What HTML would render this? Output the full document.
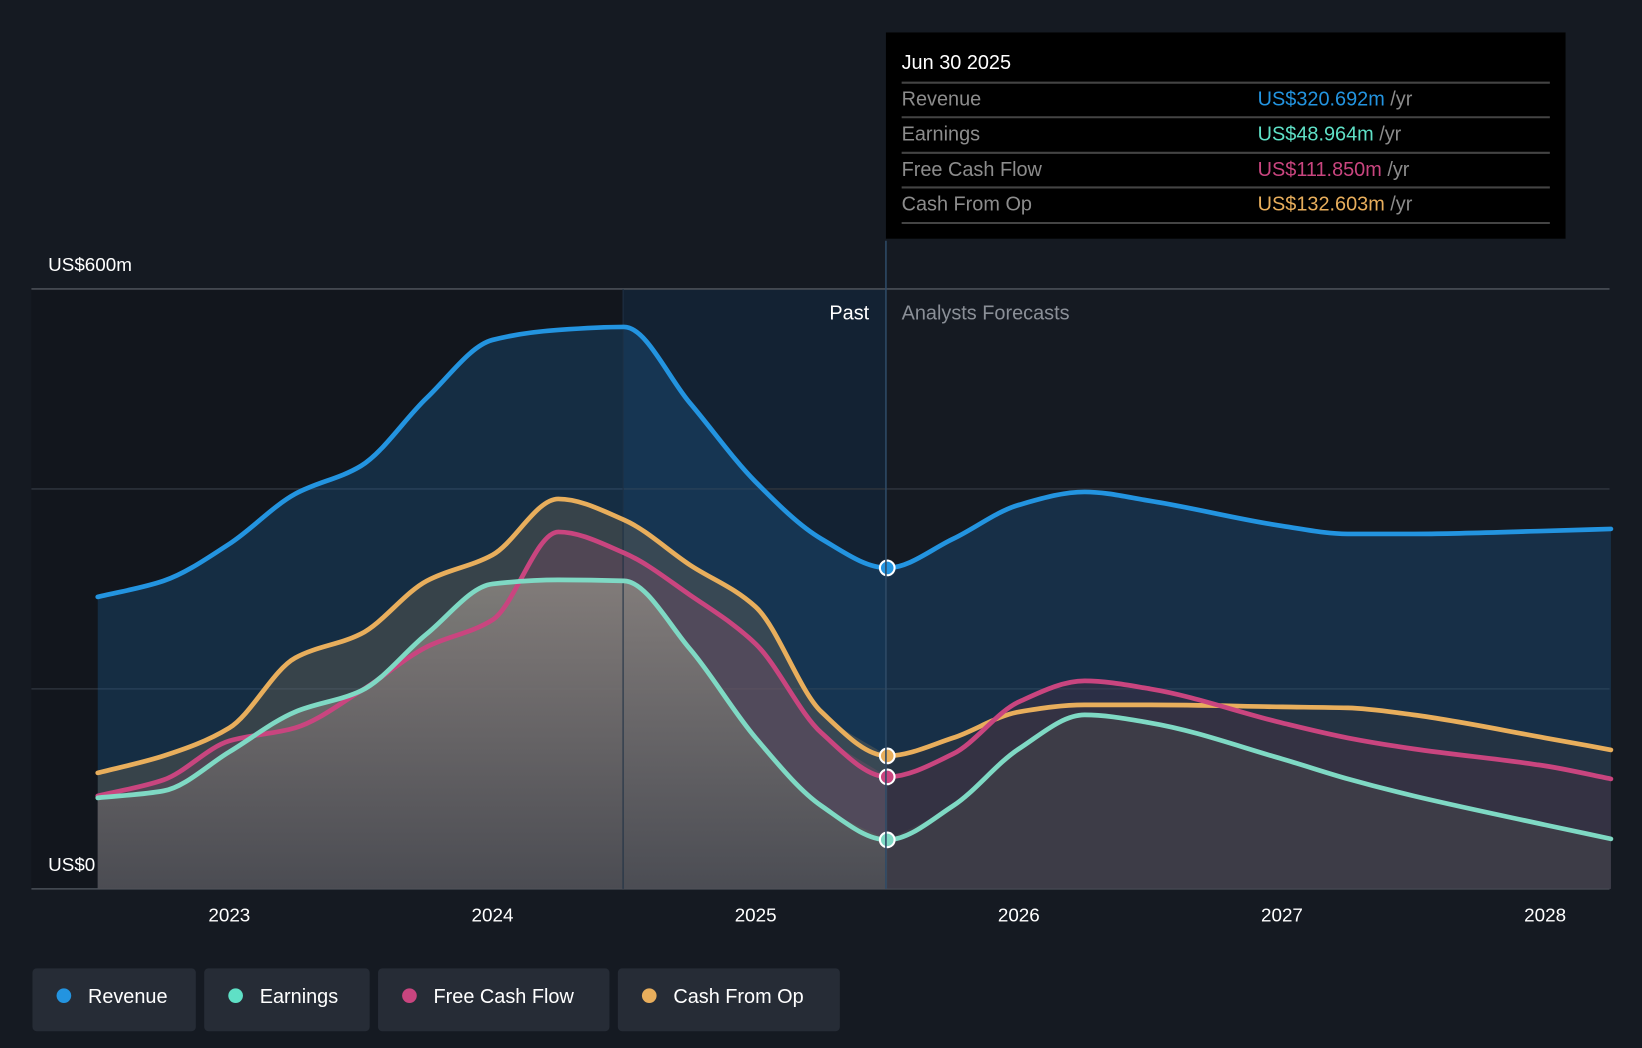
<!DOCTYPE html>
<html><head><meta charset="utf-8"><style>
html,body{margin:0;padding:0;background:#151a22;overflow:hidden}
svg{display:block}
text{font-family:"Liberation Sans",sans-serif}
</style></head><body>
<svg id="chart" width="1642" height="1048" viewBox="0 0 1568 1001" preserveAspectRatio="none" xmlns="http://www.w3.org/2000/svg">
<defs>
<linearGradient id="gGray" x1="0" y1="0" x2="0" y2="1"><stop offset="0" stop-color="#8a8580" stop-opacity="0.85"/><stop offset="1" stop-color="#4a4d52" stop-opacity="0.85"/></linearGradient>
</defs>
<rect x="0" y="0" width="1568" height="1001" fill="#151a22"/>
<rect x="30" y="276" width="565" height="573" fill="#12161d"/>
<rect x="595" y="276" width="251" height="573" fill="#132233"/>
<g id="grid"></g>
<g id="areas"></g>
<line x1="595" y1="276" x2="595" y2="849" stroke="#1e3044" stroke-width="1"/>
<g id="lines"></g>
<g id="dots"></g>
<line x1="846" y1="230" x2="846" y2="849" stroke="#2e4a66" stroke-width="1.5"/>
<text x="830" y="305" fill="#ffffff" font-size="19" text-anchor="end">Past</text>
<text x="861" y="305" fill="#8a8f97" font-size="19">Analysts Forecasts</text>
<text x="46" y="259" fill="#ffffff" font-size="18">US$600m</text>
<text x="46" y="832" fill="#ffffff" font-size="18">US$0</text>
<g id="xticks"></g>
<g>
<rect x="846" y="31" width="649" height="197" fill="#000"/>
<text x="861" y="66" fill="#fff" font-size="19">Jun 30 2025</text>
<line x1="861" y1="79" x2="1480" y2="79" stroke="#444" stroke-width="2"/>
<text x="861" y="101" fill="#8c8c8c" font-size="19">Revenue</text>
<text x="1201" y="101" fill="#2394e0" font-size="19">US$320.692m <tspan fill="#8c8c8c">/yr</tspan></text>
<line x1="861" y1="112" x2="1480" y2="112" stroke="#444" stroke-width="2"/>
<text x="861" y="134" fill="#8c8c8c" font-size="19">Earnings</text>
<text x="1201" y="134" fill="#5fe0c6" font-size="19">US$48.964m <tspan fill="#8c8c8c">/yr</tspan></text>
<line x1="861" y1="146" x2="1480" y2="146" stroke="#444" stroke-width="2"/>
<text x="861" y="168" fill="#8c8c8c" font-size="19">Free Cash Flow</text>
<text x="1201" y="168" fill="#c9457f" font-size="19">US$111.850m <tspan fill="#8c8c8c">/yr</tspan></text>
<line x1="861" y1="179" x2="1480" y2="179" stroke="#444" stroke-width="2"/>
<text x="861" y="201" fill="#8c8c8c" font-size="19">Cash From Op</text>
<text x="1201" y="201" fill="#e8ae5c" font-size="19">US$132.603m <tspan fill="#8c8c8c">/yr</tspan></text>
<line x1="861" y1="213" x2="1480" y2="213" stroke="#444" stroke-width="2"/>
</g>
<g>
<g><rect x="31" y="925" width="156" height="60" rx="4" fill="#262c36"/><circle cx="61" cy="951" r="7" fill="#2394e0"/><text x="84" y="958" fill="#fff" font-size="19">Revenue</text></g>
<g><rect x="195" y="925" width="158" height="60" rx="4" fill="#262c36"/><circle cx="225" cy="951" r="7" fill="#5fe0c6"/><text x="248" y="958" fill="#fff" font-size="19">Earnings</text></g>
<g><rect x="361" y="925" width="221" height="60" rx="4" fill="#262c36"/><circle cx="391" cy="951" r="7" fill="#c9457f"/><text x="414" y="958" fill="#fff" font-size="19">Free Cash Flow</text></g>
<g><rect x="590" y="925" width="212" height="60" rx="4" fill="#262c36"/><circle cx="620" cy="951" r="7" fill="#e8ae5c"/><text x="643" y="958" fill="#fff" font-size="19">Cash From Op</text></g>
</g>
</svg>
<script>
const years=[2022.5,2022.75,2023,2023.25,2023.5,2023.75,2024,2024.25,2024.5,2024.75,2025,2025.25,2025.5,2025.75,2026,2026.25,2026.5,2027,2027.25,2027.5,2028,2028.25];
const revenue=[292,308,345,395,423,491,549,559,562,486,407,350,321,350,384,397,388,363,355,355,358,360];
const earnings=[91,98,137,177,198,255,305,309,308,240,151,83,49,83,140,174,166,130,110,93,64,50];
const fcf=[93,109,148,161,198,242,269,357,336,294,245,156,112,135,187,208,200,166,151,140,123,110];
const cfo=[116,133,161,231,255,308,334,390,369,324,282,177,133,151,177,184,184,182,181,174,151,139];
const gridVals=[0,200,400,600];
const tickYears=[2023,2024,2025,2026,2027,2028];
const pastEnd=12;
const NS="http://www.w3.org/2000/svg";
const xS=y=>219+(y-2023)*251.3;
const yS=v=>849-v*0.955;
function pts(vals,a,b){const r=[];for(let i=a;i<=b;i++)r.push([xS(years[i]),yS(vals[i])]);return r;}
function curve(p){const n=p.length;const d=[],m=[];for(let i=0;i<n-1;i++)d.push((p[i+1][1]-p[i][1])/(p[i+1][0]-p[i][0]));
m[0]=d[0];m[n-1]=d[n-2];for(let i=1;i<n-1;i++){if(d[i-1]*d[i]<=0)m[i]=0;else{m[i]=2/(1/d[i-1]+1/d[i]);}}
let s="M"+p[0][0]+","+p[0][1];for(let i=0;i<n-1;i++){const h=(p[i+1][0]-p[i][0])/3;s+=" C"+(p[i][0]+h)+","+(p[i][1]+m[i]*h)+" "+(p[i+1][0]-h)+","+(p[i+1][1]-m[i+1]*h)+" "+p[i+1][0]+","+p[i+1][1];}return s;}
function mk(tag,attrs,parent){const e=document.createElementNS(NS,tag);for(const k in attrs)e.setAttribute(k,attrs[k]);document.getElementById(parent).appendChild(e);return e;}
gridVals.forEach(v=>{const l=mk("line",{x1:30,x2:1537,y1:yS(v),y2:yS(v),stroke:v==600||v==0?"#4a4f57":"#2c323b","stroke-width":1.5},"grid");

});
tickYears.forEach(y=>{const t=mk("text",{x:xS(y),y:880,fill:"#fff","font-size":18,"text-anchor":"middle"},"xticks");t.textContent=y;

});
const n=years.length-1;
function area(vals,a,b,fill){const p=pts(vals,a,b);const d=curve(p)+" L"+p[p.length-1][0]+","+yS(0)+" L"+p[0][0]+","+yS(0)+" Z";const e=mk("path",{d:d,fill:fill},"areas");

}
area(revenue,0,n,"rgba(30,90,140,0.35)");
area(cfo,0,pastEnd,"rgba(120,110,90,0.35)");
area(fcf,0,pastEnd,"rgba(140,80,110,0.3)");
area(earnings,0,pastEnd,"url(#gGray)");
area(cfo,pastEnd,n,"rgba(60,60,60,0.35)");
area(fcf,pastEnd,n,"rgba(90,50,70,0.3)");
area(earnings,pastEnd,n,"rgba(70,70,75,0.5)");
const series=[["revenue",revenue,"#2394e0"],["earnings",earnings,"#7fd9c4"],["free-cash-flow",fcf,"#c9457f"],["cash-from-op",cfo,"#e8ae5c"]];
series.slice().reverse().forEach(s=>{const e=mk("path",{d:curve(pts(s[1],0,n)),fill:"none",stroke:s[2],"stroke-width":4.5,"stroke-linecap":"round"},"lines");


const c=mk("circle",{cx:xS(years[pastEnd]),cy:yS(s[1][pastEnd]),r:7,fill:s[2],stroke:"#fff","stroke-width":2},"dots");

});
</script>
</body></html>
